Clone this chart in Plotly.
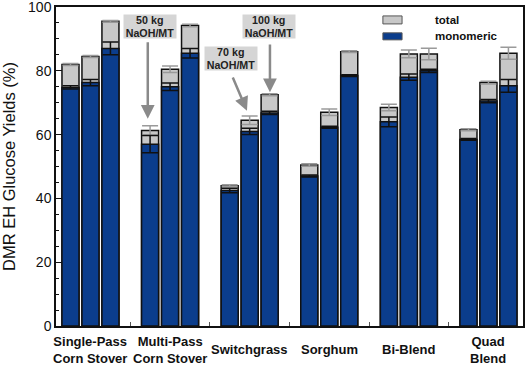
import plotly.graph_objects as go

categories = ["Single-Pass<br>Corn Stover", "Multi-Pass<br>Corn Stover", "Switchgrass",
              "Sorghum", "Bi-Blend", "Quad<br>Blend"]

# three loadings per feedstock (bar 1, bar 2, bar 3)
total_1 = [82.0, 61.3, 44.0, 50.5, 68.5, 61.5]
total_1_err = [0.3, 1.5, 0.3, 0.4, 1.0, 0.3]
total_2 = [84.5, 80.5, 64.5, 67.0, 85.3, 76.3]
total_2_err = [0.3, 1.0, 1.3, 1.0, 1.2, 0.4]
total_3 = [95.5, 94.2, 72.5, 86.0, 85.3, 85.5]
total_3_err = [0.3, 0.4, 0.3, 0.3, 1.8, 1.9]

mono_1 = [74.8, 57.0, 42.5, 47.0, 64.0, 58.5]
mono_1_err = [0.5, 2.7, 0.7, 0.3, 1.5, 0.3]
mono_2 = [76.3, 75.0, 61.0, 62.3, 78.0, 70.5]
mono_2_err = [1.0, 1.2, 1.0, 0.3, 1.0, 0.5]
mono_3 = [87.0, 85.5, 66.8, 78.5, 80.0, 75.3]
mono_3_err = [2.0, 1.5, 0.5, 0.3, 0.5, 2.0]

offsets = [-0.251, 0.0, 0.251]
totals = [(total_1, total_1_err), (total_2, total_2_err), (total_3, total_3_err)]
monos = [(mono_1, mono_1_err), (mono_2, mono_2_err), (mono_3, mono_3_err)]

BLUE = "#0b3d8c"
GRAY = "#c8c8c8"
FONT = "Liberation Sans, Arial, Helvetica, sans-serif"

fig = go.Figure()
idx = list(range(len(categories)))
for off, (vals, err) in zip(offsets, totals):
    fig.add_trace(go.Bar(
        x=[i + off for i in idx], y=vals, width=0.214,
        marker=dict(color=GRAY, line=dict(color="#111111", width=1.5)),
        error_y=dict(type="data", array=err, color="#9a9a9a", thickness=1.5, width=8),
        showlegend=False, name="total"))
for off, (vals, err) in zip(offsets, monos):
    fig.add_trace(go.Bar(
        x=[i + off for i in idx], y=vals, width=0.214,
        marker=dict(color=BLUE, line=dict(color="#111111", width=1.5)),
        error_y=dict(type="data", array=err, color="#111111", thickness=1.5, width=8),
        showlegend=False, name="monomeric"))

# category labels, vertically centred under each group
for i, cat in zip(idx, categories):
    fig.add_annotation(x=i, y=-0.075, xref="x", yref="paper", text=cat, showarrow=False,
                       xanchor="center", yanchor="middle",
                       font=dict(family=FONT, size=13, color="#111111", weight="bold"))

# custom legend (boxes + labels)
legend_items = [("total", GRAY, 0.972, 0.947), ("monomeric", BLUE, 0.919, 0.897)]
for label, col, y1, y0 in legend_items:
    fig.add_shape(type="rect", xref="paper", yref="paper", x0=0.700, x1=0.741, y0=y0, y1=y1,
                  fillcolor=col, line=dict(color="#555555", width=1))
    fig.add_annotation(xref="paper", yref="paper", x=0.807, y=(y0 + y1) / 2, text=label,
                       showarrow=False, xanchor="left", yanchor="middle",
                       font=dict(family=FONT, size=11.5, color="#111111", weight="bold"))

# loading call-outs
callouts = [
    ("50 kg<br>NaOH/MT", 0.754, 93.9, 0.72, 89.4, 0.72, 65.0),
    ("70 kg<br>NaOH/MT", 1.760, 83.9, 1.78, 78.4, 1.966, 67.5),
    ("100 kg<br>NaOH/MT", 2.240, 93.8, 2.255, 88.7, 2.255, 73.3),
]
for text, tx, ty, ax, ay, hx, hy in callouts:
    fig.add_annotation(x=tx, y=ty, xref="x", yref="y", text=text, showarrow=False,
                       bgcolor="#d5d5d5", width=52, height=23, borderpad=0,
                       font=dict(family=FONT, size=10.7, color="#222222", weight="bold"))
    fig.add_annotation(x=hx, y=hy, ax=ax, ay=ay, xref="x", yref="y", axref="x", ayref="y",
                       text="", showarrow=True, arrowhead=2, arrowsize=1.1, arrowwidth=2.5,
                       arrowcolor="#8a8a8a", standoff=0, startstandoff=0)

fig.update_layout(
    width=526, height=365,
    margin=dict(l=56, r=3, t=7, b=39, autoexpand=False),
    barmode="overlay",
    plot_bgcolor="white", paper_bgcolor="white",
    font=dict(family=FONT, color="#111111"),
    xaxis=dict(range=[-0.433, 5.434], tickmode="array", tickvals=idx, showticklabels=False,
               ticks="", showline=True, linecolor="#111111", linewidth=1.5, mirror=True,
               showgrid=False, zeroline=False,
               minor=dict(tickmode="array", tickvals=[0.5, 1.5, 2.5, 3.5, 4.5],
                          ticks="inside", ticklen=4, tickcolor="#555555", tickwidth=1)),
    yaxis=dict(range=[0, 100], tickmode="linear", dtick=20, ticks="inside", ticklen=6,
               tickcolor="#111111", showline=True, linecolor="#111111", linewidth=1.5,
               mirror=True, showgrid=False, zeroline=False, ticklabeloverflow="allow",
               tickfont=dict(family=FONT, size=14, color="#111111"),
               title=dict(text="DMR EH Glucose Yields (%)", standoff=9,
                          font=dict(family=FONT, size=16.5, color="#111111")),
               minor=dict(dtick=5, ticks="inside", ticklen=3, tickcolor="#111111")),
)

fig.write_html("out.html", config={"displayModeBar": False},
               post_script="document.body.style.margin='0';")
